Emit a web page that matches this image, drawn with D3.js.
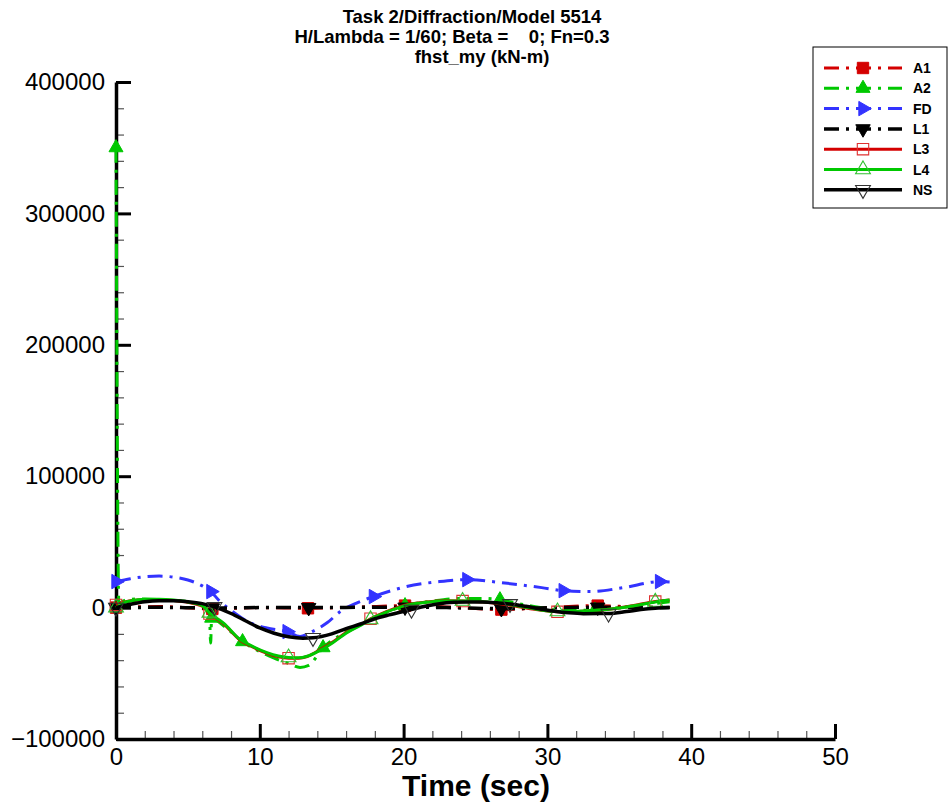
<!DOCTYPE html>
<html>
<head>
<meta charset="utf-8">
<script src="https://cdn.jsdelivr.net/npm/d3@7/dist/d3.min.js"></script>
<style>
  html, body { margin: 0; padding: 0; background: #fff; }
  svg { display: block; font-family: "Liberation Sans", Arial, Helvetica, sans-serif; }
</style>
</head>
<body>
<svg id="chart" width="951" height="805"></svg>
<script>
// ---------- data ----------
const titleLines = ["Task 2/Diffraction/Model 5514", "H/Lambda = 1/60; Beta =    0; Fn=0.3", "fhst_my (kN-m)"];
const xLabel = "Time (sec)";
const xTicks = [0, 10, 20, 30, 40, 50];
const xMinorTicks = [2,4,6,8,12,14,16,18,22,24,26,28,32,34,36,38,42,44,46,48];
const yTicks = [-100000, 0, 100000, 200000, 300000, 400000];
const yMinorTicks = [-80000,-60000,-40000,-20000,20000,40000,60000,80000,120000,140000,160000,180000,220000,240000,260000,280000,320000,340000,360000,380000];
const seriesNames = ["A1", "A2", "FD", "L1", "L3", "L4", "NS"];

const A1 = [[0,0],[3,800],[6.7,-1000],[10,0],[13.35,-500],[17,500],[20.1,1500],[23,500],[26.8,-1500],[30,0],[33.5,1500],[36,500],[38.5,0]];
const A1_markers = [0, 6.7, 13.35, 20.1, 26.8, 33.5];

const A2 = [[0,350000],[0.2,3000],[0.6,5500],[1.5,6500],[3,6000],[4.5,5000],[5.5,3500],[6.2,1000],[6.5,-5000],[6.58,-27000],[6.65,-8000],[7.5,-14000],[8.8,-25900],[10,-33500],[11,-38500],[12,-42500],[12.8,-45500],[13.4,-44000],[14.4,-30500],[15.5,-21500],[16.5,-15200],[18,-7500],[20.1,1500],[22,5000],[24,7000],[25.5,7000],[26.7,6000],[28,3000],[29.5,0],[31,-2000],[33.3,-2000],[35,0],[37,2500],[38.5,4500]];
const A2_markers = [0, 6.65, 8.8, 14.4, 20.1, 26.7, 33.3];

const FD = [[0,19800],[1,22000],[2,23500],[3,24000],[4,23200],[5,21000],[6,16500],[6.6,12200],[7.2,5000],[8,-2000],[9.3,-11400],[10.5,-15500],[11.9,-18300],[12.8,-22000],[13.6,-18500],[14.7,-11400],[15.6,-3000],[16.8,3800],[17.9,8400],[20.2,16000],[22.5,19800],[24.4,21300],[26.8,19000],[29.6,15200],[31.1,12900],[33,12200],[35.3,15200],[37.8,19800],[38.5,19500]];
const FD_markers = [0, 6.6, 11.9, 17.9, 24.4, 31.1, 37.8];

const L1 = [[0,0],[3,200],[6.7,-300],[10,0],[13.4,0],[17,200],[20.1,300],[23,0],[26.8,-800],[30,-200],[33.5,300],[36,0],[38.5,0]];
const L1_markers = [0, 6.7, 13.4, 20.1, 26.8, 33.5];

const L3 = [[0,2000],[0.5,4000],[1,5200],[2,6000],[3,6000],[4,5400],[5,4000],[6,1000],[6.5,-4500],[7.5,-12500],[8.6,-24500],[9.5,-30000],[10.5,-34800],[11.3,-37500],[12,-38500],[12.7,-38500],[13.3,-37200],[14.2,-32000],[15.1,-26000],[16,-19000],[17,-13000],[17.7,-8500],[18.8,-3000],[20.1,1800],[21.8,4400],[23,5200],[24.1,5000],[25.5,4300],[26.7,3000],[28.6,-500],[30.7,-3200],[32.5,-2800],[34.1,-1500],[35.8,1200],[37.5,4600],[38.5,5800]];
const L3_markers = [0, 6.5, 12, 17.7, 24.1, 30.7, 37.5];

const L4 = [[0,0],[0.5,3500],[1,5000],[2,6300],[3,6300],[4,5700],[5,4300],[6,1500],[6.5,-4000],[7.5,-12000],[8.6,-24000],[9.5,-29500],[10.5,-34200],[11.3,-36800],[12,-38000],[12.7,-38200],[13.3,-37000],[14.2,-32500],[15.1,-26500],[16,-19500],[17,-13500],[17.7,-9000],[18.8,-3500],[20.1,1500],[21.8,4200],[23,5000],[24.1,5000],[25.5,4500],[26.7,3500],[28.6,0],[30.7,-3000],[32.5,-2500],[34.1,-1500],[35.8,1000],[37.5,4300],[38.5,5800]];
const L4_markers = [0, 6.5, 12, 17.7, 24.1, 30.7, 37.5];

const NS = [[0,0],[1,2500],[2,4500],[3,5300],[4,5200],[5,4500],[6,3000],[6.85,500],[8,-4500],[9,-10000],[10,-15500],[11,-19500],[12,-22200],[13,-23300],[13.7,-23000],[15,-20000],[16,-16000],[17,-12500],[18,-8500],[19,-5500],[20.55,-1500],[21.5,1000],[22.5,3000],[23.5,4000],[24.5,4300],[25.5,4200],[26.5,3600],[27.4,2800],[28.5,1000],[29.5,-1000],[30.5,-2800],[31.5,-4000],[32.5,-4600],[34.25,-4500],[35.5,-3000],[36.5,-1500],[37.5,-500],[38.5,0]];
const NS_markers = [0, 6.85, 13.7, 20.55, 27.4, 34.25];

// ---------- styles ----------
const RED = "#d40000", GREEN = "#00c800", BLUE = "#3333ff", BLACK = "#000";
const DASH = "15,7,3,7";
const series = [
  { name: "A1", data: A1, markers: A1_markers, color: RED,   dash: DASH, width: 3, sym: "square", angle: 0,   fill: RED,   mstroke: RED,   msw: 1, msize: 130 },
  { name: "A2", data: A2, markers: A2_markers, color: GREEN, dash: DASH, width: 3, sym: "triangle", angle: 0, fill: GREEN, mstroke: GREEN, msw: 1, msize: 85 },
  { name: "FD", data: FD, markers: FD_markers, color: BLUE,  dash: DASH, width: 3, sym: "triangle", angle: 90, fill: BLUE, mstroke: BLUE,  msw: 1, msize: 90 },
  { name: "L1", data: L1, markers: L1_markers, color: BLACK, dash: DASH, width: 3.5, sym: "triangle", angle: 180, fill: BLACK, mstroke: BLACK, msw: 1, msize: 90 },
  { name: "L3", data: L3, markers: L3_markers, color: RED,   dash: null, width: 3, sym: "square", angle: 0,   fill: "none", mstroke: "#e03030", msw: 1.1, msize: 130 },
  { name: "L4", data: L4, markers: L4_markers, color: GREEN, dash: null, width: 3, sym: "triangle", angle: 0, fill: "none", mstroke: "#30c030", msw: 1.1, msize: 95 },
  { name: "NS", data: NS, markers: NS_markers, color: BLACK, dash: null, width: 3.5, sym: "triangle", angle: 180, fill: "none", mstroke: "#333", msw: 1.1, msize: 95 }
];

// ---------- scales ----------
const svg = d3.select("#chart");
const x = d3.scaleLinear().domain([0, 50]).range([116, 835]);
const y = d3.scaleLinear().domain([-100000, 400000]).range([739, 82]);

// ---------- title ----------
const titleX = [472, 452, 482];
const titleY = [23, 43, 63];
titleLines.forEach((t, i) => {
  svg.append("text")
    .attr("x", titleX[i]).attr("y", titleY[i])
    .attr("text-anchor", "middle")
    .attr("font-size", 18.5).attr("font-weight", "bold")
    .style("white-space", "pre")
    .attr("xml:space", "preserve")
    .text(t);
});

// ---------- axes ----------
const gx = svg.append("g").attr("transform", `translate(0,${y(-100000)})`);
gx.call(d3.axisBottom(x).tickValues(xMinorTicks).tickSize(-8).tickSizeOuter(0).tickFormat(""));
gx.selectAll("line").attr("stroke", "#555").attr("stroke-width", 1.2);
gx.select(".domain").remove();
const gx2 = svg.append("g").attr("transform", `translate(0,${y(-100000)})`);
gx2.call(d3.axisBottom(x).tickValues(xTicks).tickSize(-15).tickSizeOuter(0).tickPadding(9).tickFormat(d3.format("d")));
gx2.selectAll(".tick line").attr("stroke", "#000").attr("stroke-width", 3);
gx2.selectAll("text").attr("font-size", 24).attr("fill", "#000").attr("font-family", "'Liberation Sans', Arial, sans-serif");
gx2.select(".domain").attr("stroke-width", 3.5);

const gy = svg.append("g").attr("transform", `translate(${x(0)},0)`);
gy.call(d3.axisLeft(y).tickValues(yMinorTicks).tickSize(-8).tickSizeOuter(0).tickFormat(""));
gy.selectAll("line").attr("stroke", "#555").attr("stroke-width", 1.2);
gy.select(".domain").remove();
const gy2 = svg.append("g").attr("transform", `translate(${x(0)},0)`);
gy2.call(d3.axisLeft(y).tickValues(yTicks).tickSize(-15).tickSizeOuter(0).tickPadding(11).tickFormat(d3.format("d")));
gy2.selectAll(".tick line").attr("stroke", "#000").attr("stroke-width", 3);
gy2.selectAll("text").attr("font-size", 24).attr("fill", "#000").attr("font-family", "'Liberation Sans', Arial, sans-serif");
gy2.select(".domain").attr("stroke-width", 3.5);

svg.append("text")
  .attr("x", 476).attr("y", 796)
  .attr("text-anchor", "middle")
  .attr("font-size", 30).attr("font-weight", "bold")
  .text(xLabel);

// ---------- series ----------
const line = d3.line().x(d => x(d[0])).y(d => y(d[1])).curve(d3.curveMonotoneX);
function symPath(s) {
  const type = s.sym === "square" ? d3.symbolSquare : d3.symbolTriangle;
  return d3.symbol().type(type).size(s.msize)();
}
const plot = svg.append("g");
series.forEach(s => {
  plot.append("path")
    .datum(s.data)
    .attr("d", line)
    .attr("fill", "none")
    .attr("stroke", s.color)
    .attr("stroke-width", s.width)
    .attr("stroke-dasharray", s.dash)
    .attr("stroke-linejoin", "round");
  const pts = s.markers.map(t => s.data.find(d => d[0] === t)).filter(Boolean);
  plot.selectAll(null).data(pts).enter().append("path")
    .attr("d", symPath(s))
    .attr("transform", d => `translate(${x(d[0])},${y(d[1])}) rotate(${s.angle})`)
    .attr("fill", s.fill)
    .attr("stroke", s.mstroke)
    .attr("stroke-width", s.msw);
});

// ---------- legend ----------
const lg = svg.append("g");
lg.append("rect").attr("x", 813).attr("y", 47).attr("width", 134).attr("height", 161)
  .attr("fill", "#fff").attr("stroke", "#000").attr("stroke-width", 1);
series.forEach((s, i) => {
  const yy = 68 + i * 20.3;
  lg.append("line").attr("x1", 824).attr("x2", 902).attr("y1", yy).attr("y2", yy)
    .attr("stroke", s.color).attr("stroke-width", s.width).attr("stroke-dasharray", s.dash);
  lg.append("path").attr("d", symPath(s))
    .attr("transform", `translate(863,${yy}) rotate(${s.angle})`)
    .attr("fill", s.fill).attr("stroke", s.mstroke).attr("stroke-width", s.msw);
  lg.append("text").attr("x", 913).attr("y", yy + 5)
    .attr("font-size", 14).attr("font-weight", "bold").text(seriesNames[i]);
});
</script>
</body>
</html>
